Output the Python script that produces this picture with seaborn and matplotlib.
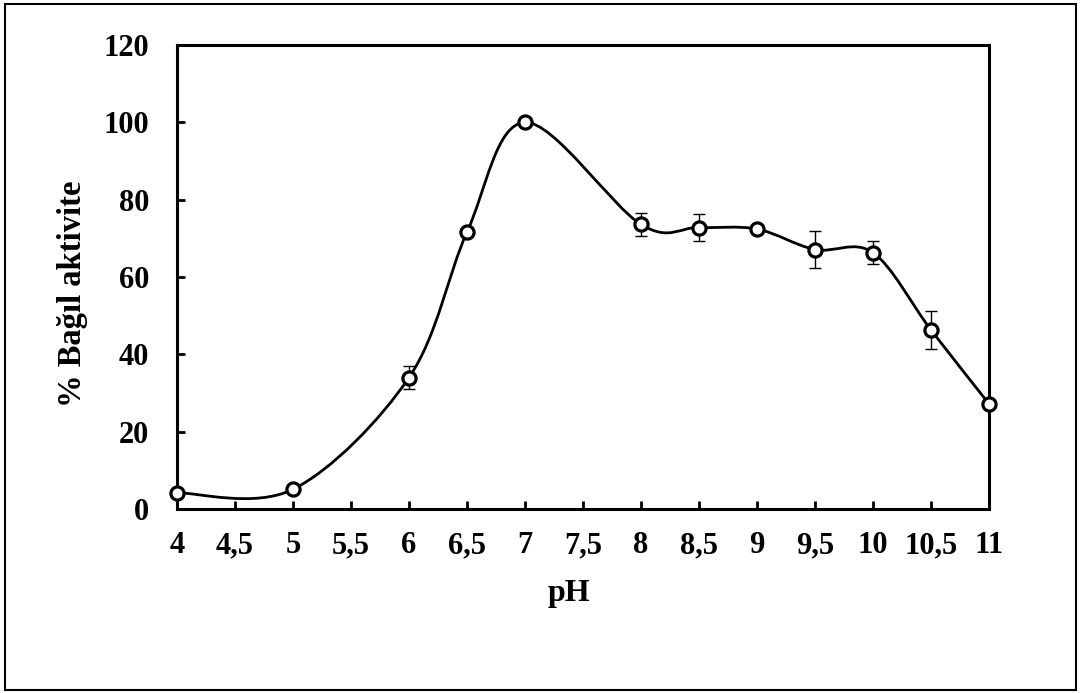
import numpy as np
import pandas as pd
import matplotlib
matplotlib.use("Agg")
import matplotlib.pyplot as plt
import seaborn as sns
from matplotlib.path import Path
from matplotlib.patches import PathPatch, Rectangle

ph = [4, 5, 6, 6.5, 7, 8, 8.5, 9, 9.5, 10, 10.5, 11]
activity = [4.2, 5.1, 34.0, 71.6, 100.0, 73.6, 72.8, 72.4, 67.1, 66.3, 46.3, 27.2]
error = [0.0, 0.0, 2.9, 0.0, 0.0, 3.0, 3.5, 1.0, 4.7, 2.9, 4.8, 0.0]
xtick_values = [4, 4.5, 5, 5.5, 6, 6.5, 7, 7.5, 8, 8.5, 9, 9.5, 10, 10.5, 11]
xtick_labels = ["4", "4,5", "5", "5,5", "6", "6,5", "7", "7,5", "8", "8,5", "9", "9,5", "10", "10,5", "11"]
ytick_values = [0, 20, 40, 60, 80, 100, 120]

df = pd.DataFrame({"pH": ph, "act": activity, "err": error})

sns.set_theme(style="white")
plt.rcParams["font.family"] = ["Liberation Serif", "DejaVu Serif"]
plt.rcParams["font.weight"] = "bold"
plt.rcParams["text.color"] = "black"
plt.rcParams["axes.labelcolor"] = "black"
plt.rcParams["xtick.color"] = "black"
plt.rcParams["ytick.color"] = "black"

fig = plt.figure(figsize=(10.81, 6.93), dpi=100)
ax = fig.add_axes([177 / 1081, 1 - 509 / 693, (989 - 177) / 1081, (509 - 45) / 693])

# smoothed line (Excel-like cubic Bezier through the data points)
x = np.array(ph, dtype=float)
y = np.array(activity, dtype=float)
verts = [(x[0], y[0])]
codes = [Path.MOVETO]
n = len(x)
for i in range(n - 1):
    p0 = np.array([x[max(i - 1, 0)], y[max(i - 1, 0)]])
    p1 = np.array([x[i], y[i]])
    p2 = np.array([x[i + 1], y[i + 1]])
    p3 = np.array([x[min(i + 2, n - 1)], y[min(i + 2, n - 1)]])
    c1 = p1 + (p2 - p0) / 6.0
    c2 = p2 - (p3 - p1) / 6.0
    verts += [tuple(c1), tuple(c2), tuple(p2)]
    codes += [Path.CURVE4] * 3
ax.add_patch(PathPatch(Path(verts, codes), facecolor="none", edgecolor="black", lw=2.0, zorder=2))

ax.errorbar(df["pH"], df["act"], yerr=df["err"], fmt="none", ecolor="black",
            elinewidth=1.0, capsize=4, capthick=1.0, zorder=3)
sns.scatterplot(data=df, x="pH", y="act", ax=ax, s=90, color="white",
                edgecolor="black", linewidth=2.3, zorder=4, clip_on=False)

ax.set_xlim(4, 11)
ax.set_ylim(0, 120)
ax.set_xticks(xtick_values)
ax.set_xticklabels(xtick_labels)
ax.set_yticks(ytick_values)
ax.tick_params(axis="both", direction="in", length=6, width=2, color="black",
               labelsize=22, labelcolor="black")
ax.tick_params(axis="y", left=True, pad=20)
ax.tick_params(axis="x", bottom=True, pad=16)
for lab in ax.get_xticklabels() + ax.get_yticklabels():
    lab.set_fontweight("bold")
for s in ax.spines.values():
    s.set_color("black")
    s.set_linewidth(2.2)
ax.set_xlabel("pH", fontsize=23, fontweight="bold", color="black")
ax.set_ylabel("% Bağıl aktivite", fontsize=23.5, fontweight="bold", color="black")
ax.xaxis.set_label_coords(0.483, -0.15)
ax.yaxis.set_label_coords(-0.11, 0.463)
ax.grid(False)

fig.patches.append(Rectangle((5 / 1081, 3 / 693), 1071 / 1081, 686 / 693,
                             transform=fig.transFigure, fill=False,
                             edgecolor="black", linewidth=1.5))

fig.savefig("out.png", dpi=100)
